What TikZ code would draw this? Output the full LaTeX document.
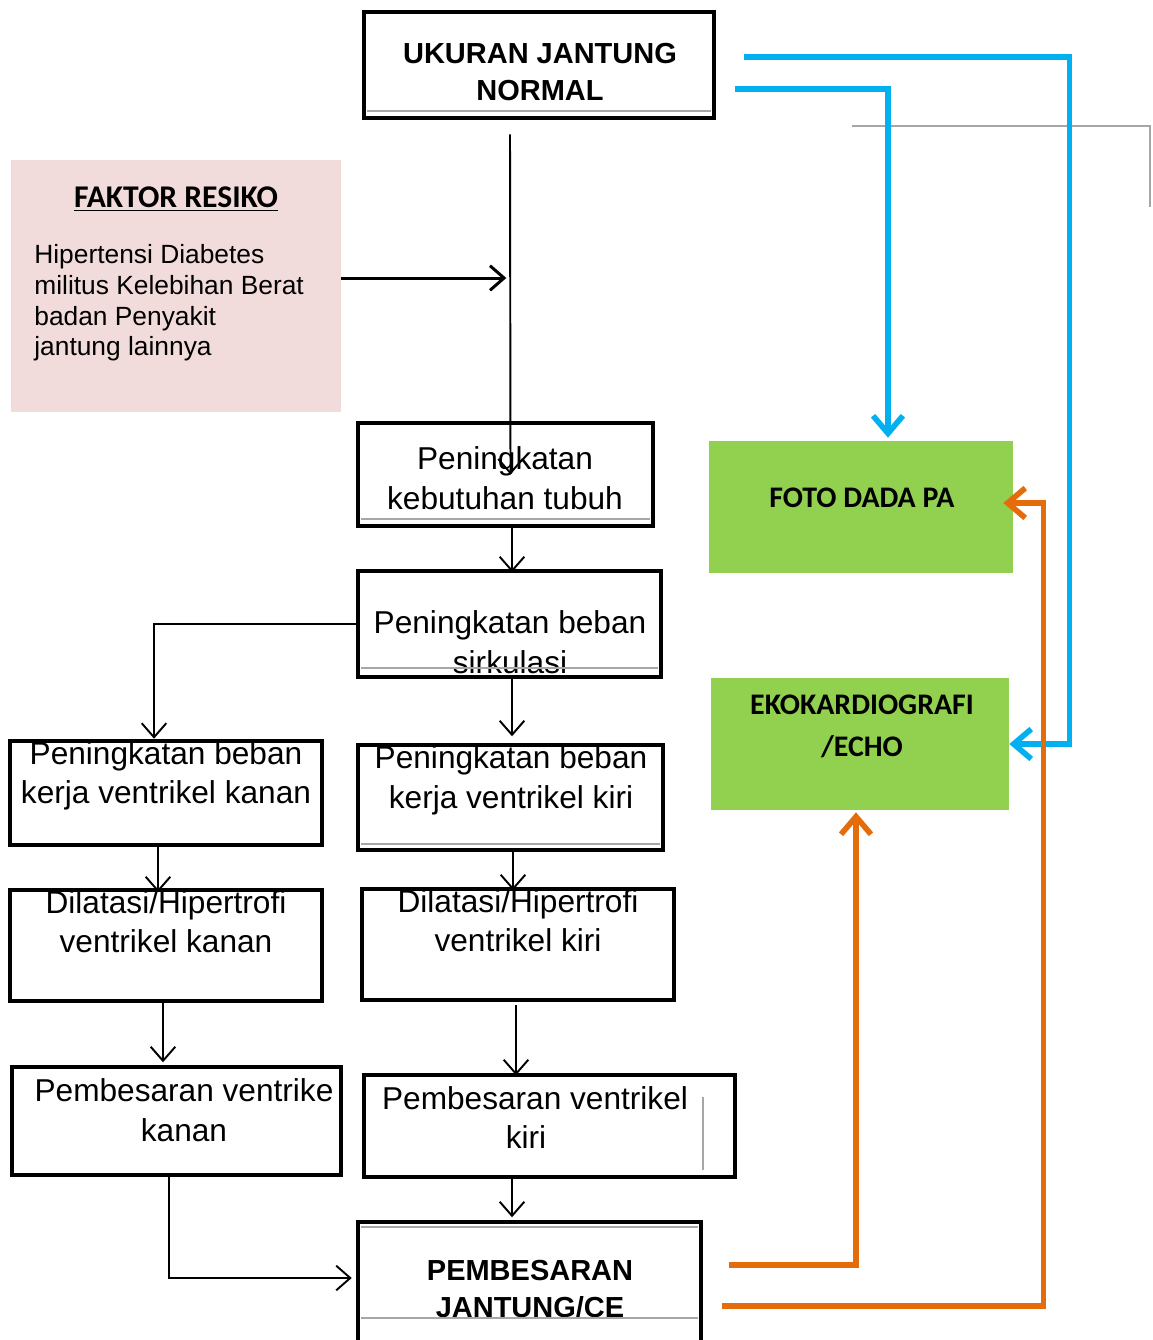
\documentclass[tikz,border=0pt]{standalone}
\usepackage{fontspec}
\setmainfont{Liberation Sans}
\newfontfamily\calibri{Carlito}
\usetikzlibrary{arrows.meta}

\definecolor{skyblue}{HTML}{00B0F0}
\definecolor{carrot}{HTML}{E46C0A}
\definecolor{leaf}{HTML}{92D050}
\definecolor{blush}{HTML}{F2DCDB}

\begin{document}
\begin{tikzpicture}[x=0.02cm,y=-0.02cm,>={Straight Barb[length=8pt,width=14pt]},
  main box/.style={draw,line width=2.6pt,inner sep=0pt},
  main text/.style={align=center,inner sep=0pt,font=\fontsize{18}{22.5}\selectfont},
  bold text/.style={align=center,inner sep=0pt,font=\fontsize{16.5}{21}\selectfont\bfseries},
  green box/.style={fill=leaf,inner sep=0pt},
  green text/.style={align=center,inner sep=0pt,font=\calibri\fontsize{17}{24}\selectfont\bfseries},
  link/.style={->,line width=1.1pt},
  blue link/.style={-{Straight Barb[length=10pt,width=17pt]},skyblue,line width=3.2pt},
  orange link/.style={-{Straight Barb[length=10pt,width=17pt]},carrot,line width=3.2pt},
  ghost/.style={gray!70,line width=0.6pt}]
  \useasboundingbox (0,0) rectangle (1153,1340);

  % faktor resiko
  \node[fill=blush,minimum width=6.6cm,minimum height=5.04cm] (faktor) at (176,286) {};
  \node[font=\calibri\fontsize{18}{22}\selectfont\bfseries,inner sep=0pt] (faktor-judul) at (176,199) {\underline{FAKTOR RESIKO}};
  \node[align=left,anchor=west,inner sep=0pt,font=\fontsize{15}{17.4}\selectfont] (faktor-isi) at (34,303)
    {Hipertensi Diabetes\\militus Kelebihan Berat\\badan Penyakit\\jantung lainnya};

  % texts of the white boxes
  \node[bold text] (ukuran-t) at (540,72) {UKURAN JANTUNG\\NORMAL};
  \node[main text] (kebutuhan-t) at (505,478) {Peningkatan\\kebutuhan tubuh};
  \node[main text] (sirkulasi-t) at (510,642) {Peningkatan beban\\sirkulasi};
  \node[main text] (kerjakanan-t) at (166,776) {Peningkatan beban\\kerja ventrikel kanan};
  \node[main text] (kerjakiri-t) at (511,780.5) {Peningkatan beban\\kerja ventrikel kiri};
  \node[main text] (dilkanan-t) at (166,921.5) {Dilatasi/Hipertrofi\\ventrikel kanan};
  \node[main text] (dilkiri-t) at (518,920.5) {Dilatasi/Hipertrofi\\ventrikel kiri};
  \node[main text] (besarkanan-t) at (184,1110) {Pembesaran ventrike\\kanan};
  \node[main text] (besarkiri-t) at (535,1117.5) {Pembesaran ventrikel\\kiri\hspace*{0.36cm}};
  \node[bold text] (jantung-t) at (530,1289) {PEMBESARAN\\JANTUNG/CE};

  % white boxes
  \node[main box,minimum width=7cm,minimum height=2.12cm] (ukuran) at (539,65) {};
  \node[main box,minimum width=5.9cm,minimum height=2.06cm] (kebutuhan) at (505.5,474.5) {};
  \node[main box,minimum width=6.06cm,minimum height=2.12cm] (sirkulasi) at (509.5,624) {};
  \node[main box,minimum width=6.24cm,minimum height=2.08cm] (kerjakanan) at (166,793) {};
  \node[main box,minimum width=6.1cm,minimum height=2.1cm] (kerjakiri) at (510.5,797.5) {};
  \node[main box,minimum width=6.24cm,minimum height=2.22cm] (dilkanan) at (166,945.5) {};
  \node[main box,minimum width=6.24cm,minimum height=2.22cm] (dilkiri) at (518,944.5) {};
  \node[main box,minimum width=6.58cm,minimum height=2.16cm] (besarkanan) at (176.5,1121) {};
  \node[main box,minimum width=7.42cm,minimum height=2.04cm] (besarkiri) at (549.5,1126) {};
  \node[main box,minimum width=6.86cm,minimum height=2.8cm] (jantung) at (529.5,1292) {};

  % green boxes
  \node[green box,minimum width=6.08cm,minimum height=2.64cm] (foto) at (861,507) {};
  \node[green text] (foto-t) at (862,498) {FOTO DADA PA};
  \node[green box,minimum width=5.96cm,minimum height=2.64cm] (eko) at (860,744) {};
  \node[green text] (eko-t) at (862,726) {EKOKARDIOGRAFI\\/ECHO};

  % stray lines
  \draw[ghost] (852,126) -| (1150,207);
  \draw[ghost] (367,111) -- (711,111);
  \draw[ghost] (361,519) -- (650,519);
  \draw[ghost] (361,668) -- (658,668);
  \draw[ghost] (361,844) -- (660,844);
  \draw[ghost] (703,1097) -- (703,1170);
  \draw[ghost] (361,1227) -- (698,1227);
  \draw[ghost] (361,1318) -- (698,1318);

  % black arrows
  \draw[link] ([xshift=-0.58cm,yshift=-0.28cm]ukuran.south) -- ([xshift=0.1cm]kebutuhan.center);
  \draw[link,line width=1.7pt,-{Straight Barb[length=8pt,width=14pt]}] ([yshift=0.16cm]faktor.east) -- ++(165,0);
  \draw[link] ([xshift=0.13cm]kebutuhan.south) -- ++(0,44);
  \draw[link] (sirkulasi.west) -| ([xshift=-0.24cm]kerjakanan.north);
  \draw[link] ([xshift=0.05cm]sirkulasi.south) -- ++(0,57);
  \draw[link] ([xshift=-0.16cm]kerjakanan.south) -- ++(0,45);
  \draw[link] ([xshift=0.05cm]kerjakiri.south) -- ++(0,38);
  \draw[link] ([xshift=-0.06cm]dilkanan.south) -- ++(0,59);
  \draw[link] ([xshift=-0.04cm,yshift=-0.06cm]dilkiri.south) -- ++(0,70);
  \draw[link] ([xshift=-0.75cm]besarkiri.south) -- ++(0,38);
  \draw[link] ([xshift=-0.15cm]besarkanan.south) |- ([xshift=-0.08cm,yshift=0.28cm]jantung.west);

  % blue arrows
  \draw[blue link] ([xshift=0.56cm,yshift=0.16cm]ukuran.east) -| ([xshift=1.2cm]eko.east) -- (eko.east);
  \draw[blue link] ([xshift=0.38cm,yshift=-0.48cm]ukuran.east) -| ([xshift=0.54cm,yshift=0.06cm]foto.north);

  % orange arrows
  \draw[orange link] ([xshift=0.52cm,yshift=0.54cm]jantung.east) -| ([xshift=-0.08cm,yshift=-0.04cm]eko.south);
  \draw[orange link] ([xshift=0.38cm,yshift=-0.28cm]jantung.east) -| ([xshift=0.6cm,yshift=0.08cm]foto.east)
    -- ([xshift=-0.2cm,yshift=0.08cm]foto.east);
\end{tikzpicture}
\end{document}
